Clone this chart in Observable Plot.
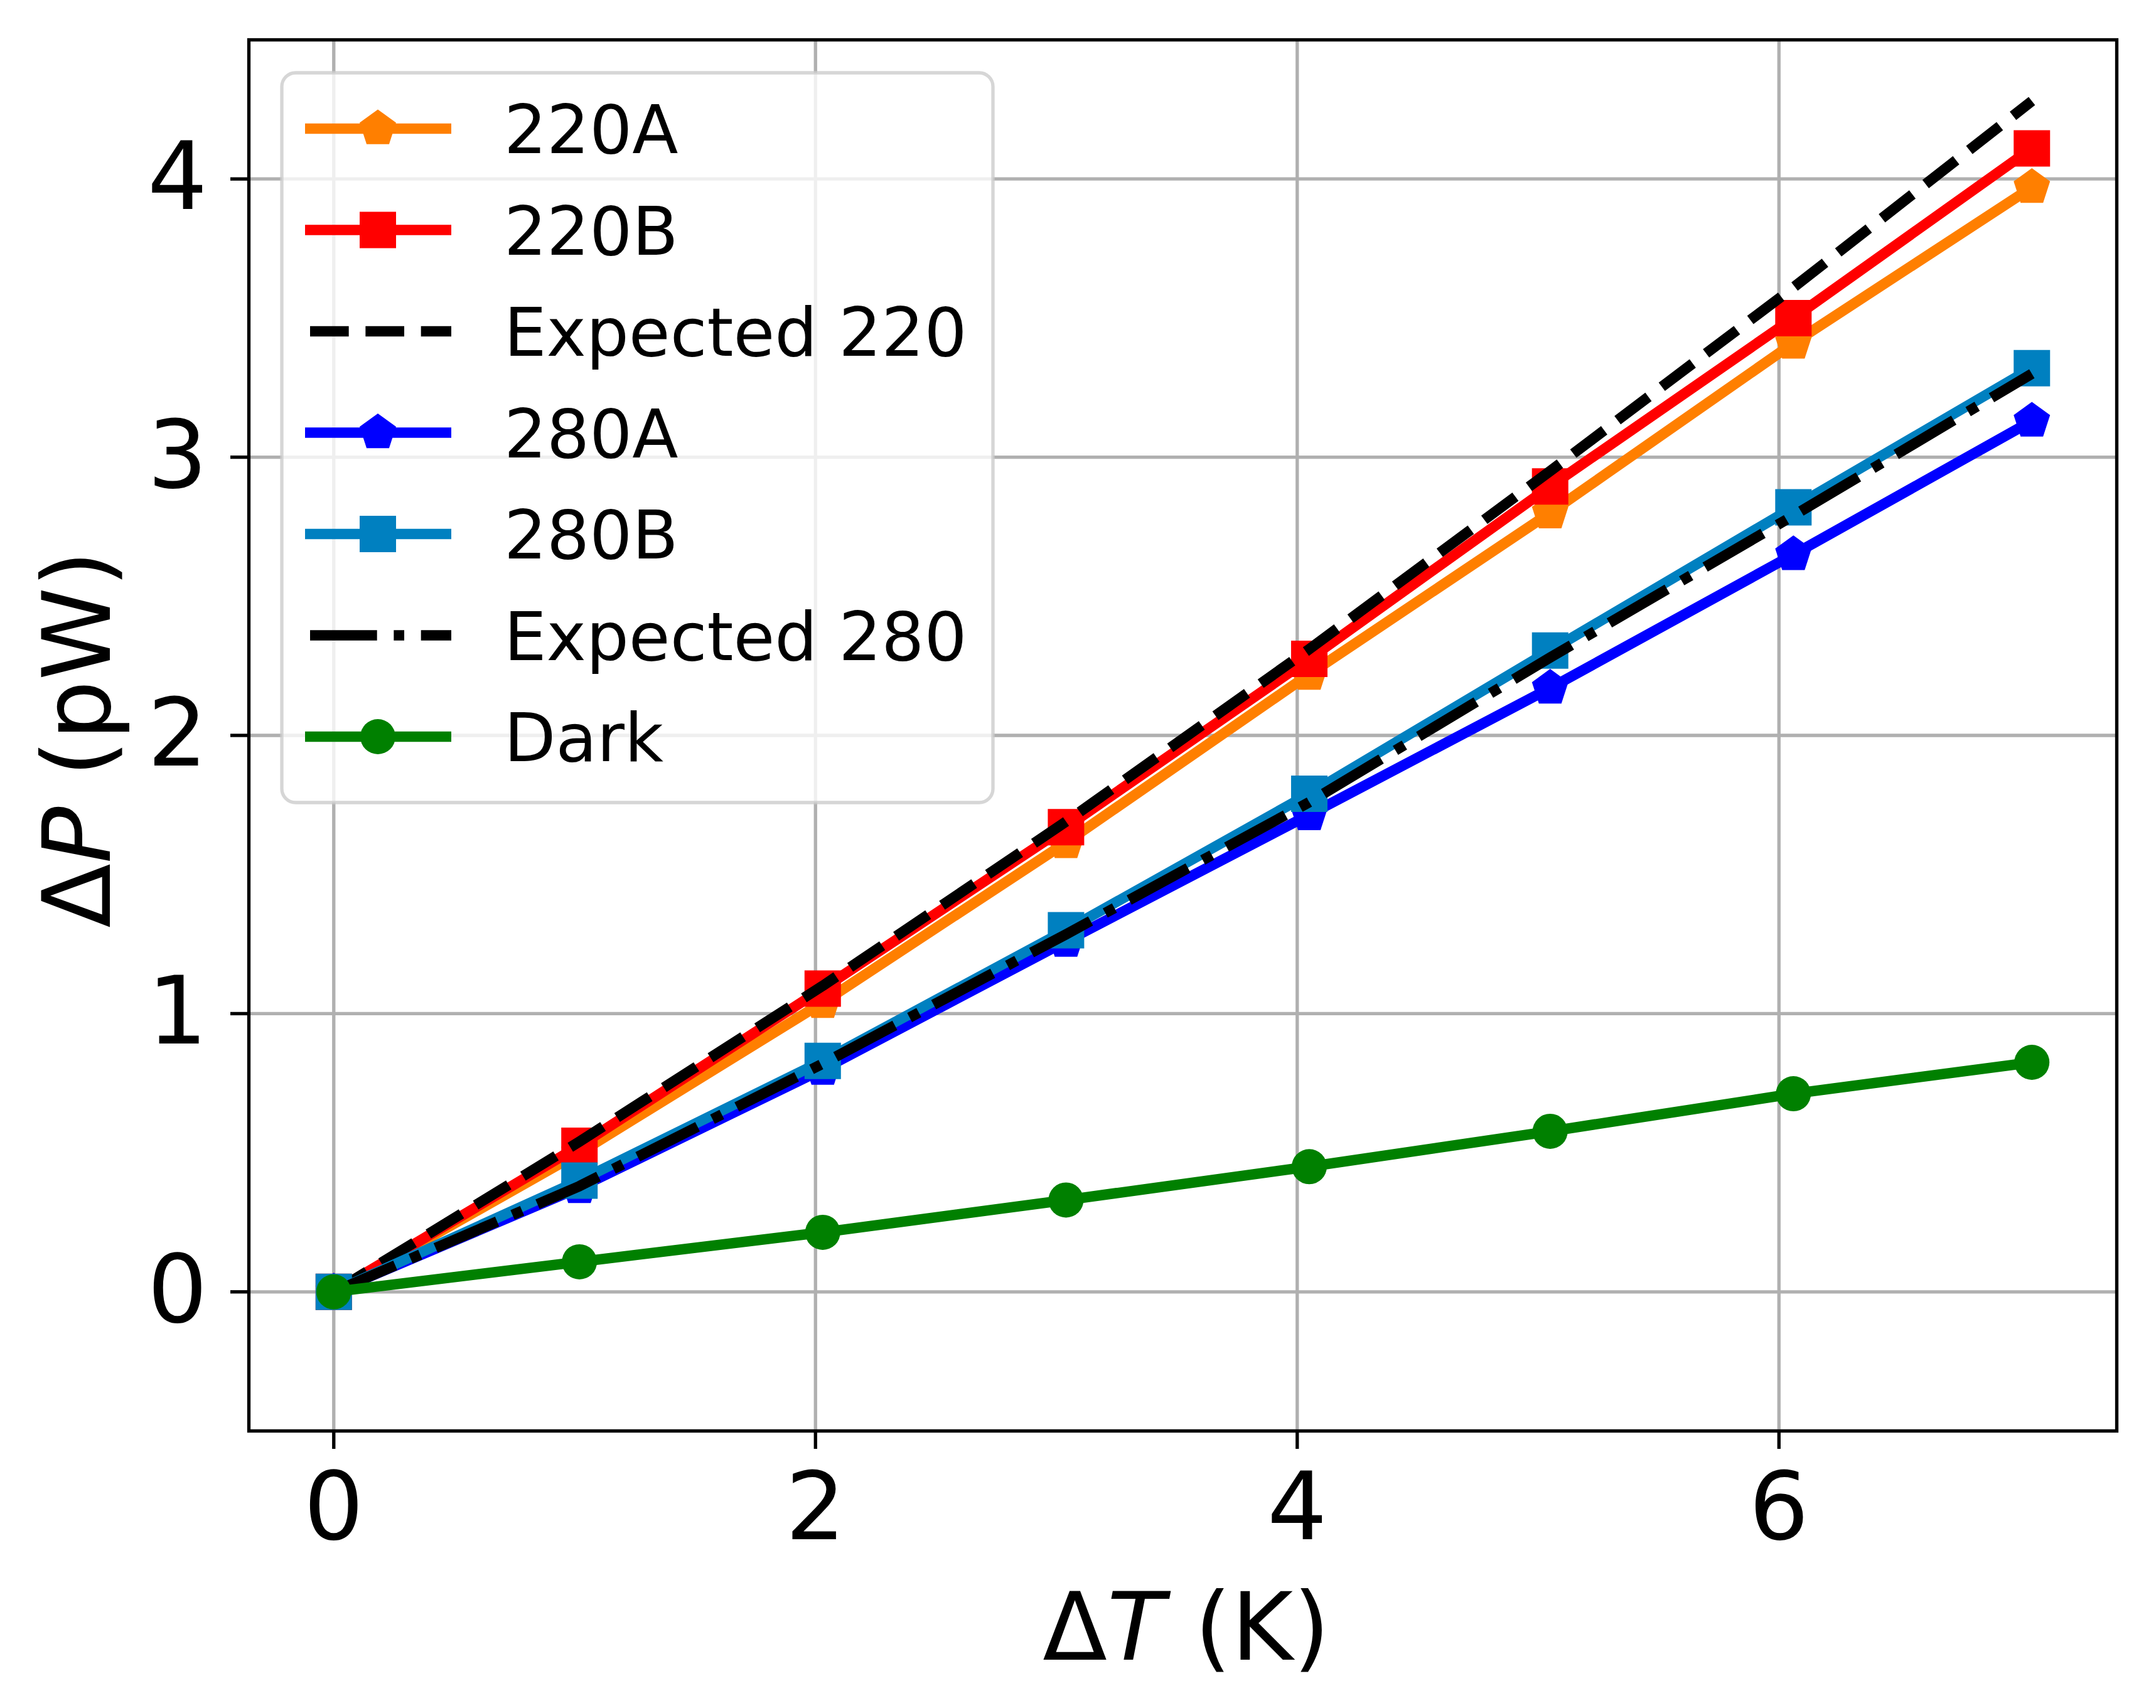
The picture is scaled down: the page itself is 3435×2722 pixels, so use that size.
<!DOCTYPE html>
<html>
<head>
<meta charset="utf-8">
<script src="https://cdn.jsdelivr.net/npm/d3@7"></script>
<script src="https://cdn.jsdelivr.net/npm/@observablehq/plot@0.6"></script>
<style>
  html, body { margin: 0; padding: 0; background: white; }
  #chart svg { display: block; }
</style>
</head>
<body>
<div id="chart"></div>
<script>
// ---- data ----
const dT      = [0, 1.02, 2.03, 3.04, 4.05, 5.05, 6.06, 7.05];
const p220A   = [0, 0.50, 1.04, 1.615, 2.22, 2.80, 3.41, 3.97];
const p220B   = [0, 0.525, 1.09, 1.67, 2.275, 2.895, 3.50, 4.11];
const exp220  = [0, 0.54, 1.10, 1.69, 2.31, 2.95, 3.61, 4.28];
const p280A   = [0, 0.375, 0.80, 1.26, 1.715, 2.17, 2.65, 3.13];
const p280B   = [0, 0.40, 0.83, 1.30, 1.79, 2.305, 2.82, 3.32];
const exp280  = [0, 0.38, 0.82, 1.285, 1.76, 2.28, 2.79, 3.30];
const dark    = [0, 0.108, 0.214, 0.33, 0.45, 0.577, 0.712, 0.825];

const seriesNames  = ["220A", "220B", "Expected 220", "280A", "280B", "Expected 280", "Dark"];
const seriesValues = [p220A, p220B, exp220, p280A, p280B, exp280, dark];
const seriesColors = ["#ff7f00", "#ff0000", "#000000", "#0000ff", "#0080c0", "#000000", "#008000"];
const seriesMarker = ["pentagon", "square", null, "pentagon", "square", null, "circle"];
const seriesDash   = [null, null, "dash", null, null, "dashdot", null];

const xTicks = [0, 2, 4, 6];
const yTicks = [0, 1, 2, 3, 4];

// ---- styling ----
const W = 3435, H = 2722;
const LW = 16.67;
const dashArr = { dash: [3.7 * LW, 1.6 * LW].join(","), dashdot: [6.4 * LW, 1.6 * LW, 1 * LW, 1.6 * LW].join(",") };

const symbols = {
  pentagon: { draw(ctx, size) {
    const R = Math.sqrt(size / Math.PI);
    for (let k = 0; k < 5; k++) {
      const a = -Math.PI / 2 + k * 2 * Math.PI / 5;
      const px = R * Math.cos(a), py = R * Math.sin(a);
      if (k === 0) ctx.moveTo(px, py); else ctx.lineTo(px, py);
    }
    ctx.closePath();
  }},
  square: { draw(ctx, size) {
    const h = Math.sqrt(size / Math.PI);
    ctx.moveTo(-h, -h); ctx.lineTo(h, -h); ctx.lineTo(h, h); ctx.lineTo(-h, h); ctx.closePath();
  }},
  circle: { draw(ctx, size) {
    const r = Math.sqrt(size / Math.PI);
    ctx.moveTo(r, 0); ctx.arc(0, 0, r, 0, 2 * Math.PI); ctx.closePath();
  }}
};
const markerR = { pentagon: 30.5, square: 29, circle: 28 };

const tables = seriesValues.map((vals, s) => dT.map((x, i) => ({ x, y: vals[i], s: seriesNames[s] })));

const marks = [
  Plot.gridX(xTicks, { stroke: "#b0b0b0", strokeOpacity: 1, strokeWidth: 5.33 }),
  Plot.gridY(yTicks, { stroke: "#b0b0b0", strokeOpacity: 1, strokeWidth: 5.33 })
];
tables.forEach((t, s) => {
  const dashed = seriesDash[s];
  marks.push(Plot.line(t, {
    x: "x", y: "y", stroke: seriesColors[s], strokeWidth: LW,
    strokeLinejoin: "round", strokeLinecap: dashed ? "butt" : "square",
    strokeDasharray: dashed ? dashArr[dashed] : null
  }));
  if (seriesMarker[s]) {
    marks.push(Plot.dot(t, {
      x: "x", y: "y", symbol: symbols[seriesMarker[s]], r: markerR[seriesMarker[s]],
      fill: seriesColors[s], stroke: "none"
    }));
  }
});
const fmt = d => String(d);
marks.push(
  Plot.frame({ stroke: "black", strokeWidth: 5.33 }),
  Plot.axisX(xTicks, { tickSize: 29, tickPadding: 37, strokeWidth: 5.33, fontSize: 150, label: null, tickFormat: fmt }),
  Plot.axisY(yTicks, { tickSize: 29, tickPadding: 37, strokeWidth: 5.33, fontSize: 150, label: null, tickFormat: fmt })
);

const svg = Plot.plot({
  width: W, height: H,
  marginLeft: 396, marginRight: W - 3372, marginTop: 63, marginBottom: H - 2280,
  x: { domain: [-0.3525, 7.4025] },
  y: { domain: [-0.5, 4.5] },
  style: { fontFamily: "'DejaVu Sans', sans-serif", fontSize: "150px", background: "white", color: "black" },
  marks
});
document.getElementById("chart").appendChild(svg);

// ---- axis labels ----
const root = d3.select(svg);
const xl = root.append("text").attr("x", 1890).attr("y", 2645)
  .attr("text-anchor", "middle").attr("font-size", 150).attr("fill", "black")
  .attr("font-family", "'DejaVu Sans', sans-serif");
xl.append("tspan").text("Δ");
xl.append("tspan").attr("font-style", "italic").text("T");
xl.append("tspan").text(" (K)");

const yl = root.append("text").attr("transform", "translate(175,1178) rotate(-90)")
  .attr("text-anchor", "middle").attr("font-size", 150).attr("fill", "black")
  .attr("font-family", "'DejaVu Sans', sans-serif");
yl.append("tspan").text("Δ");
yl.append("tspan").attr("font-style", "italic").text("P");
yl.append("tspan").text(" (pW)");

// ---- legend ----
const lg = root.append("g").attr("text-anchor", "start");
lg.append("rect").attr("x", 449).attr("y", 116).attr("width", 1133).attr("height", 1163)
  .attr("rx", 22).attr("fill", "white").attr("fill-opacity", 0.8)
  .attr("stroke", "#cccccc").attr("stroke-opacity", 0.8).attr("stroke-width", 5.33);
seriesNames.forEach((name, s) => {
  const cy = 205 + s * 161.5;
  const dashed = seriesDash[s];
  lg.append("line").attr("x1", dashed ? 494 : 486).attr("x2", 719).attr("y1", cy).attr("y2", cy)
    .attr("stroke", seriesColors[s]).attr("stroke-width", LW)
    .attr("stroke-linecap", "butt")
    .attr("stroke-dasharray", dashed ? dashArr[dashed] : null);
  if (seriesMarker[s]) {
    const p = d3.path();
    const r = markerR[seriesMarker[s]];
    symbols[seriesMarker[s]].draw(p, r * r * Math.PI);
    lg.append("path").attr("d", p.toString()).attr("transform", `translate(602,${cy})`)
      .attr("fill", seriesColors[s]);
  }
  lg.append("text").attr("x", 803).attr("y", cy + 39)
    .attr("text-anchor", "start")
    .attr("font-size", 107).attr("fill", "black")
    .attr("font-family", "'DejaVu Sans', sans-serif").text(name);
});
</script>
</body>
</html>
